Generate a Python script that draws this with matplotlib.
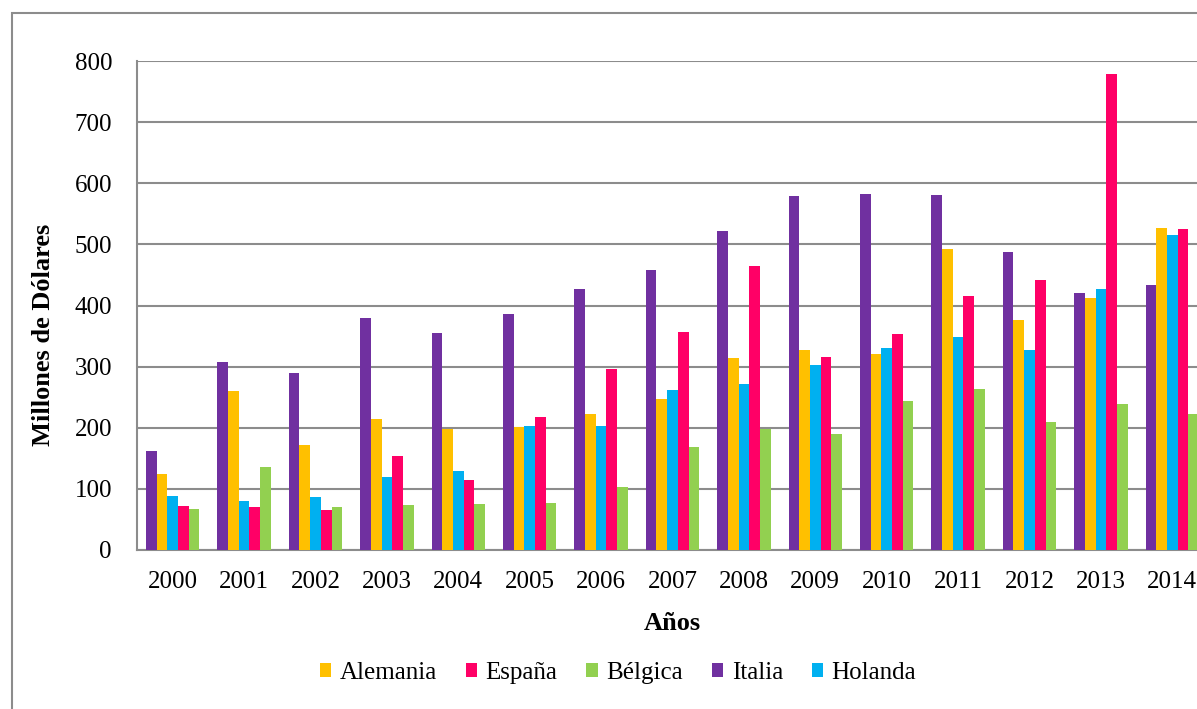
import numpy as np
import matplotlib
matplotlib.use("Agg")
import matplotlib.pyplot as plt
from matplotlib.patches import Rectangle

years = [str(y) for y in range(2000, 2015)]

# values in millions of dollars
italia   = [162, 307, 289, 380, 355, 386, 427, 458, 522, 579, 583, 581, 487, 420, 433]
alemania = [125, 260, 172, 215, 198, 201, 223, 247, 314, 327, 320, 492, 376, 412, 526]
holanda  = [88, 80, 86, 119, 129, 203, 203, 261, 272, 303, 331, 349, 327, 427, 516]
espana   = [72, 70, 65, 153, 114, 217, 296, 357, 464, 316, 354, 416, 442, 778, 525]
belgica  = [67, 135, 71, 74, 75, 77, 103, 169, 198, 189, 244, 264, 209, 239, 222]

# drawing order inside each group
series = [
    ("Italia", italia, "#7030A0"),
    ("Alemania", alemania, "#FFC000"),
    ("Holanda", holanda, "#00B0F0"),
    ("España", espana, "#FF0066"),
    ("Bélgica", belgica, "#92D050"),
]
legend_order = ["Alemania", "España", "Bélgica", "Italia", "Holanda"]

plt.rcParams["font.family"] = ["Liberation Serif", "DejaVu Serif"]

W, H = 1197, 709
fig = plt.figure(figsize=(W / 100, H / 100), dpi=100)

# plot area in pixels: left 137, right 1208 (clipped), top 61, bottom 550
left, right, top, bottom = 137, 1208, 61, 550
ax = fig.add_axes([left / W, 1 - bottom / H, (right - left) / W, (bottom - top) / H])

x = np.arange(len(years))
bw = 0.15
handles = {}
for i, (name, vals, col) in enumerate(series):
    b = ax.bar(x + (i - 2) * bw, vals, width=bw, color=col, label=name, zorder=3)
    handles[name] = b

ax.set_xlim(-0.5, len(years) - 0.5)
ax.set_ylim(0, 800)
ax.set_yticks(range(0, 801, 100))
ax.yaxis.grid(True, color="#8C8C8C", linewidth=1.5, zorder=0)
ax.set_xticks(x)
ax.set_xticklabels(years, fontsize=18)
ax.tick_params(axis="x", length=0, pad=15)
ax.tick_params(axis="y", labelsize=18, length=0, pad=18)

for s in ["top", "right"]:
    ax.spines[s].set_visible(False)
ax.spines["left"].set_color("#8C8C8C")
ax.spines["bottom"].set_color("#8C8C8C")
ax.spines["left"].set_linewidth(1.5)
ax.spines["bottom"].set_linewidth(1.5)

ax.set_ylabel("Millones de Dólares", fontsize=19, fontweight="bold")
ax.yaxis.set_label_coords((55 - left) / (right - left), (bottom - 335) / (bottom - top))
ax.set_xlabel("Años", fontsize=19, fontweight="bold", labelpad=14)

leg = fig.legend([handles[n] for n in legend_order], legend_order,
                 loc="center", bbox_to_anchor=(618 / W, 1 - 673 / H), ncol=5,
                 frameon=False, fontsize=18, handlelength=0.45, handleheight=0.45,
                 handletextpad=0.35, columnspacing=1.15)

# outer chart border
fig.patches.append(Rectangle((12 / W, -0.1), 1.2, 1 - 13 / H + 0.1,
                             transform=fig.transFigure, fill=False,
                             edgecolor="#8C8C8C", linewidth=1.5))

fig.savefig("out.png", dpi=100)
